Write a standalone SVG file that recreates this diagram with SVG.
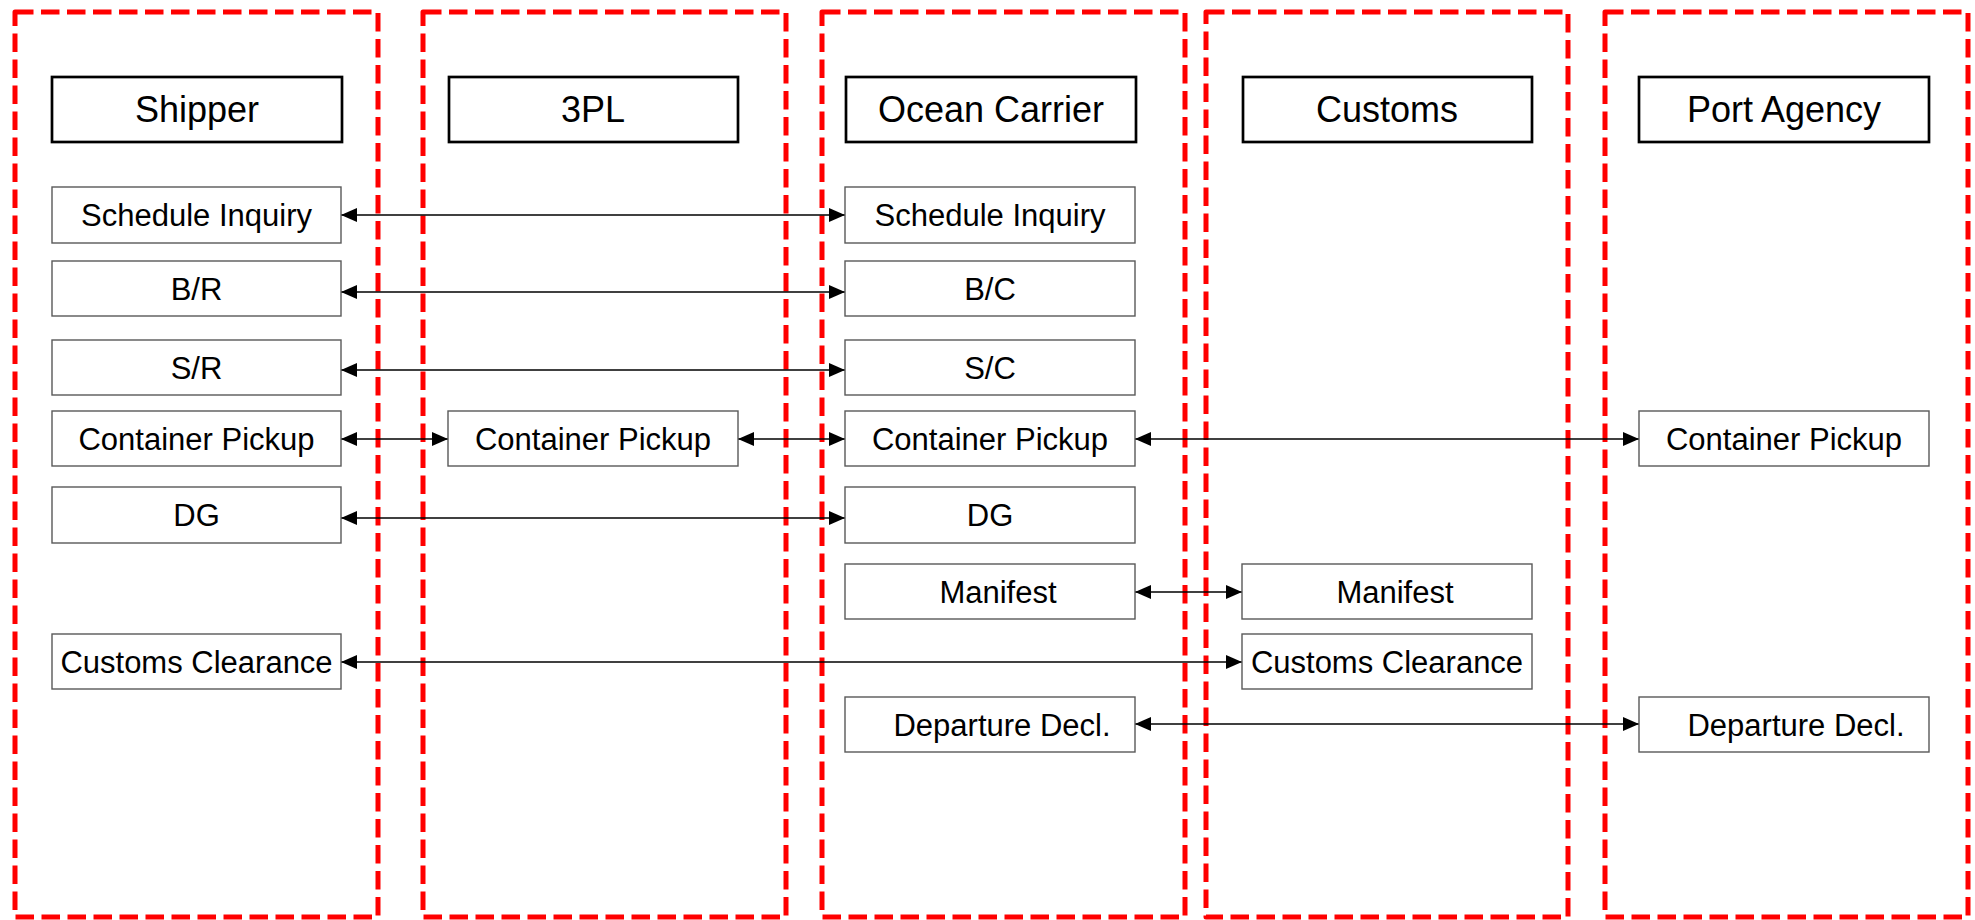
<svg xmlns="http://www.w3.org/2000/svg" width="1975" height="920" viewBox="0 0 1975 920">
  <style>
    .lane { fill: none; stroke: #FF0000; stroke-width: 5; stroke-dasharray: 18.5 7.5; stroke-linejoin: round; }
    .hdr rect { fill: #FFFFFF; stroke: #000000; stroke-width: 2.7; }
    .hdr text { font-family: "Liberation Sans", Arial, sans-serif; font-size: 36px; fill: #000000; text-anchor: middle; }
    .node rect { fill: #FFFFFF; stroke: #595959; stroke-width: 1.4; }
    .node text { font-family: "Liberation Sans", Arial, sans-serif; font-size: 31px; fill: #000000; text-anchor: middle; }
    .conn line { stroke: #000000; stroke-width: 1.6; marker-start: url(#ah); marker-end: url(#ah); }
  </style>
  <defs>
    <marker id="ah" markerUnits="userSpaceOnUse" markerWidth="17" markerHeight="15" refX="16" refY="7" orient="auto-start-reverse" viewBox="0 0 17 15">
      <path d="M0,0 L16,7 L0,14 z" fill="#000000"/>
    </marker>
  </defs>
  <rect width="1975" height="920" fill="#FFFFFF"/>

  <g id="lanes">
    <rect class="lane" x="15" y="12" width="363" height="905"/>
    <rect class="lane" x="423" y="12" width="363" height="905"/>
    <rect class="lane" x="822" y="12" width="363" height="905"/>
    <rect class="lane" x="1206" y="12" width="362" height="905"/>
    <rect class="lane" x="1605" y="12" width="363" height="905"/>
  </g>

  <g id="connectors" class="conn">
    <line x1="341" y1="215" x2="845" y2="215"/>
    <line x1="341" y1="292" x2="845" y2="292"/>
    <line x1="341" y1="370" x2="845" y2="370"/>
    <line x1="341" y1="439" x2="448" y2="439"/>
    <line x1="738" y1="439" x2="845" y2="439"/>
    <line x1="1135" y1="439" x2="1639" y2="439"/>
    <line x1="341" y1="518" x2="845" y2="518"/>
    <line x1="1135" y1="592" x2="1242" y2="592"/>
    <line x1="341" y1="662" x2="1242" y2="662"/>
    <line x1="1135" y1="724" x2="1639" y2="724"/>
  </g>

  <g id="hdr-shipper" class="hdr"><rect x="52" y="77" width="290" height="65"/><text x="197" y="122">Shipper</text></g>
  <g id="hdr-3pl" class="hdr"><rect x="449" y="77" width="289" height="65"/><text x="593" y="122">3PL</text></g>
  <g id="hdr-ocean" class="hdr"><rect x="846" y="77" width="290" height="65"/><text x="991" y="122">Ocean Carrier</text></g>
  <g id="hdr-customs" class="hdr"><rect x="1243" y="77" width="289" height="65"/><text x="1387" y="122">Customs</text></g>
  <g id="hdr-port" class="hdr"><rect x="1639" y="77" width="290" height="65"/><text x="1784" y="122">Port Agency</text></g>

  <g id="shipper-schedule" class="node"><rect x="52" y="187" width="289" height="56"/><text x="196.5" y="226">Schedule Inquiry</text></g>
  <g id="shipper-br" class="node"><rect x="52" y="261" width="289" height="55"/><text x="196.5" y="300">B/R</text></g>
  <g id="shipper-sr" class="node"><rect x="52" y="340" width="289" height="55"/><text x="196.5" y="379">S/R</text></g>
  <g id="shipper-pickup" class="node"><rect x="52" y="411" width="289" height="55"/><text x="196.5" y="450">Container Pickup</text></g>
  <g id="shipper-dg" class="node"><rect x="52" y="487" width="289" height="56"/><text x="196.5" y="526">DG</text></g>
  <g id="shipper-customs" class="node"><rect x="52" y="634" width="289" height="55"/><text x="196.5" y="673">Customs Clearance</text></g>

  <g id="3pl-pickup" class="node"><rect x="448" y="411" width="290" height="55"/><text x="593" y="450">Container Pickup</text></g>

  <g id="ocean-schedule" class="node"><rect x="845" y="187" width="290" height="56"/><text x="990" y="226">Schedule Inquiry</text></g>
  <g id="ocean-bc" class="node"><rect x="845" y="261" width="290" height="55"/><text x="990" y="300">B/C</text></g>
  <g id="ocean-sc" class="node"><rect x="845" y="340" width="290" height="55"/><text x="990" y="379">S/C</text></g>
  <g id="ocean-pickup" class="node"><rect x="845" y="411" width="290" height="55"/><text x="990" y="450">Container Pickup</text></g>
  <g id="ocean-dg" class="node"><rect x="845" y="487" width="290" height="56"/><text x="990" y="526">DG</text></g>
  <g id="ocean-manifest" class="node"><rect x="845" y="564" width="290" height="55"/><text x="998" y="603">Manifest</text></g>
  <g id="ocean-departure" class="node"><rect x="845" y="697" width="290" height="55"/><text x="1002" y="736">Departure Decl.</text></g>

  <g id="customs-manifest" class="node"><rect x="1242" y="564" width="290" height="55"/><text x="1395" y="603">Manifest</text></g>
  <g id="customs-clearance" class="node"><rect x="1242" y="634" width="290" height="55"/><text x="1387" y="673">Customs Clearance</text></g>

  <g id="port-pickup" class="node"><rect x="1639" y="411" width="290" height="55"/><text x="1784" y="450">Container Pickup</text></g>
  <g id="port-departure" class="node"><rect x="1639" y="697" width="290" height="55"/><text x="1796" y="736">Departure Decl.</text></g>
</svg>
